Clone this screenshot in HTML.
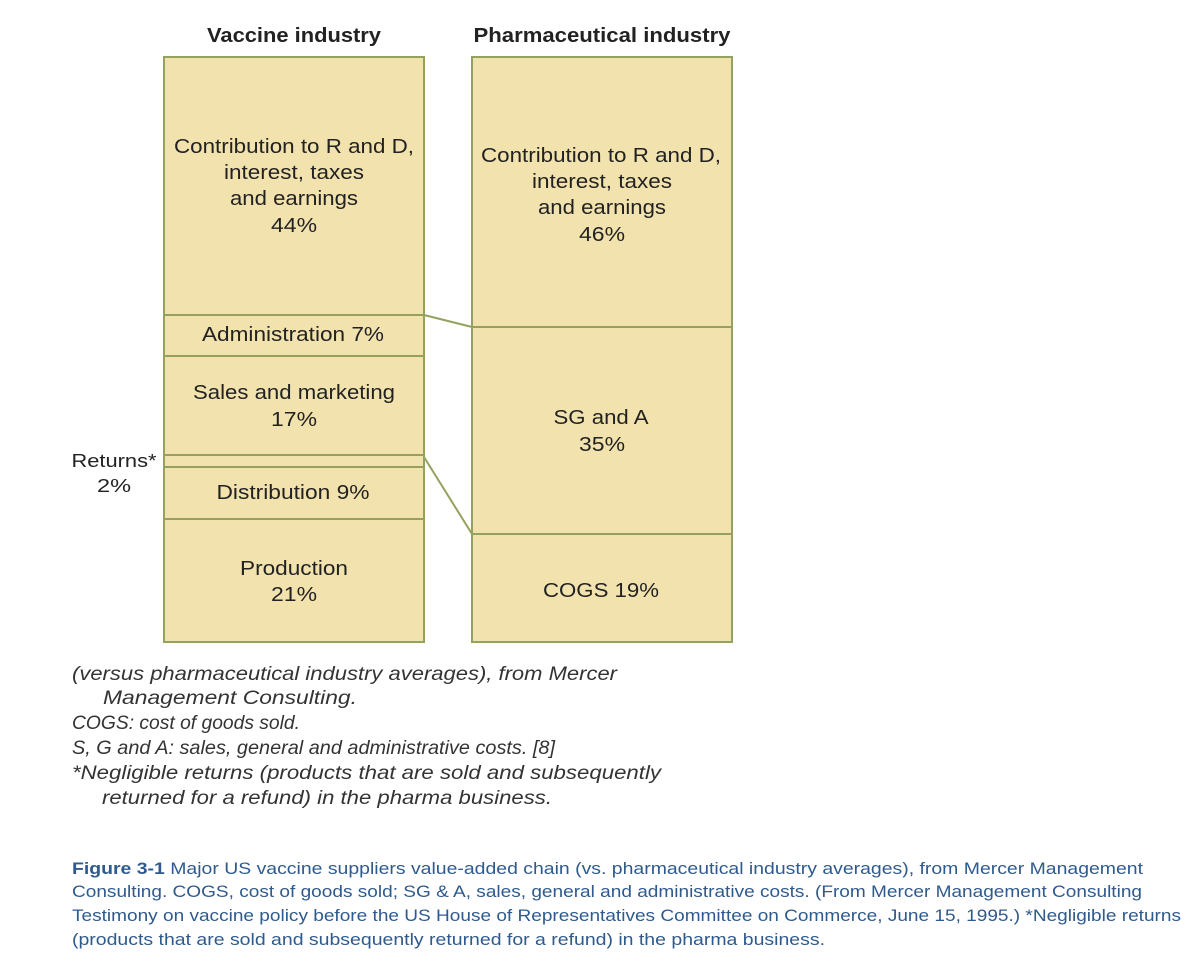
<!DOCTYPE html>
<html><head><meta charset="utf-8"><style>
body{margin:0;background:#fff;width:1192px;height:965px;overflow:hidden}
svg text{font-family:"Liberation Sans",Arial,sans-serif}
</style></head><body>
<svg width="1192" height="965" xmlns="http://www.w3.org/2000/svg">
<g fill="#f2e3ae" stroke="#93a35e" stroke-width="2">
<rect x="164" y="57" width="260" height="585"/>
<rect x="472" y="57" width="260" height="585"/>
</g>
<g stroke="#93a35e" stroke-width="2" fill="none">
<line x1="164" y1="315" x2="424" y2="315"/>
<line x1="164" y1="356" x2="424" y2="356"/>
<line x1="164" y1="455" x2="424" y2="455"/>
<line x1="164" y1="467" x2="424" y2="467"/>
<line x1="164" y1="519" x2="424" y2="519"/>
<line x1="472" y1="327" x2="732" y2="327"/>
<line x1="472" y1="534" x2="732" y2="534"/>
<line x1="424" y1="315" x2="472" y2="327"/>
<line x1="424" y1="457" x2="472" y2="534"/>
</g>
<g font-size="20" fill="#222" text-anchor="middle" lengthAdjust="spacingAndGlyphs">
<text x="294" y="42" font-weight="bold" textLength="174" lengthAdjust="spacingAndGlyphs">Vaccine industry</text>
<text x="602" y="42" font-weight="bold" textLength="257" lengthAdjust="spacingAndGlyphs">Pharmaceutical industry</text>
<text x="294" y="153" textLength="240" lengthAdjust="spacingAndGlyphs">Contribution to R and D,</text>
<text x="294" y="179" textLength="140" lengthAdjust="spacingAndGlyphs">interest, taxes</text>
<text x="294" y="205" textLength="128" lengthAdjust="spacingAndGlyphs">and earnings</text>
<text x="294" y="232" textLength="46" lengthAdjust="spacingAndGlyphs">44%</text>
<text x="293" y="341" textLength="182" lengthAdjust="spacingAndGlyphs">Administration 7%</text>
<text x="294" y="399" textLength="202" lengthAdjust="spacingAndGlyphs">Sales and marketing</text>
<text x="294" y="426" textLength="46" lengthAdjust="spacingAndGlyphs">17%</text>
<text x="293" y="499" textLength="153" lengthAdjust="spacingAndGlyphs">Distribution 9%</text>
<text x="294" y="575" textLength="108" lengthAdjust="spacingAndGlyphs">Production</text>
<text x="294" y="601" textLength="46" lengthAdjust="spacingAndGlyphs">21%</text>
<text x="601" y="162" textLength="240" lengthAdjust="spacingAndGlyphs">Contribution to R and D,</text>
<text x="602" y="188" textLength="140" lengthAdjust="spacingAndGlyphs">interest, taxes</text>
<text x="602" y="214" textLength="128" lengthAdjust="spacingAndGlyphs">and earnings</text>
<text x="602" y="241" textLength="46" lengthAdjust="spacingAndGlyphs">46%</text>
<text x="601" y="424" textLength="95" lengthAdjust="spacingAndGlyphs">SG and A</text>
<text x="602" y="451" textLength="46" lengthAdjust="spacingAndGlyphs">35%</text>
<text x="601" y="597" textLength="116" lengthAdjust="spacingAndGlyphs">COGS 19%</text>
<text x="114" y="467" font-size="18" textLength="85" lengthAdjust="spacingAndGlyphs">Returns*</text>
<text x="114" y="492" font-size="18" textLength="34" lengthAdjust="spacingAndGlyphs">2%</text>
</g>
<g font-size="19" fill="#333" font-style="italic">
<text x="72" y="680" textLength="545" lengthAdjust="spacingAndGlyphs">(versus pharmaceutical industry averages), from Mercer</text>
<text x="103" y="704" textLength="254" lengthAdjust="spacingAndGlyphs">Management Consulting.</text>
<text x="72" y="729" textLength="228" lengthAdjust="spacingAndGlyphs">COGS: cost of goods sold.</text>
<text x="72" y="754" textLength="483" lengthAdjust="spacingAndGlyphs">S, G and A: sales, general and administrative costs. [8]</text>
<text x="72" y="779" textLength="589" lengthAdjust="spacingAndGlyphs">*Negligible returns (products that are sold and subsequently</text>
<text x="102" y="804" textLength="450" lengthAdjust="spacingAndGlyphs">returned for a refund) in the pharma business.</text>
</g>
<g font-size="17" fill="#2f5a8d">
<text x="72" y="874" textLength="1071" lengthAdjust="spacingAndGlyphs"><tspan font-weight="bold">Figure 3-1</tspan>  Major US vaccine suppliers value-added chain (vs. pharmaceutical industry averages), from Mercer Management</text>
<text x="72" y="897" textLength="1070" lengthAdjust="spacingAndGlyphs">Consulting. COGS, cost of goods sold; SG &amp; A, sales, general and administrative costs. (From Mercer Management Consulting</text>
<text x="72" y="921" textLength="1109" lengthAdjust="spacingAndGlyphs">Testimony on vaccine policy before the US House of Representatives Committee on Commerce, June 15, 1995.) *Negligible returns</text>
<text x="72" y="945" textLength="753" lengthAdjust="spacingAndGlyphs">(products that are sold and subsequently returned for a refund) in the pharma business.</text>
</g>
</svg>
</body></html>
